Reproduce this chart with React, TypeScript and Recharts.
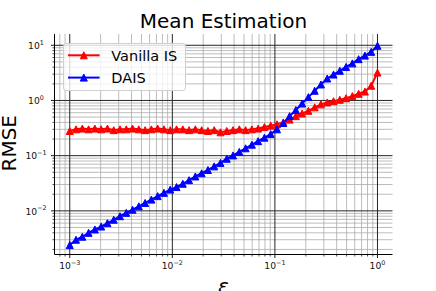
import { CartesianGrid, Legend, Line, LineChart, XAxis, YAxis } from "recharts";

const eps = [
  0.001, 0.001151, 0.001326, 0.001526, 0.001758, 0.002024, 0.00233, 0.002683, 0.003089, 0.003556,
  0.004095, 0.004715, 0.005429, 0.006251, 0.007197, 0.008286, 0.009541, 0.01099, 0.01265, 0.01456,
  0.01677, 0.01931, 0.02223, 0.0256, 0.02947, 0.03393, 0.03907, 0.04498, 0.0518, 0.05964,
  0.06866, 0.07906, 0.09103, 0.1048, 0.1207, 0.139, 0.16, 0.1842, 0.2121, 0.2442,
  0.2812, 0.3237, 0.3728, 0.4292, 0.4942, 0.569, 0.6551, 0.7543, 0.8685, 1.0,
];

const vanillaIS = [
  0.28, 0.3, 0.31, 0.3, 0.31, 0.3, 0.31, 0.29, 0.3, 0.3,
  0.31, 0.3, 0.29, 0.3, 0.31, 0.3, 0.29, 0.3, 0.3, 0.29,
  0.3, 0.29, 0.28, 0.29, 0.265, 0.28, 0.29, 0.3, 0.29, 0.3,
  0.31, 0.33, 0.35, 0.37, 0.4, 0.45, 0.52, 0.58, 0.65, 0.75,
  0.85, 0.92, 0.97, 1.03, 1.1, 1.2, 1.32, 1.45, 1.85, 3.2,
];

const dais = [
  0.0024, 0.003, 0.0034, 0.004, 0.0046, 0.0052, 0.006, 0.0069, 0.008, 0.0092,
  0.0105, 0.0121, 0.0139, 0.016, 0.0185, 0.0212, 0.0243, 0.027, 0.031, 0.036,
  0.042, 0.048, 0.055, 0.064, 0.074, 0.088, 0.101, 0.117, 0.136, 0.158,
  0.183, 0.212, 0.246, 0.3, 0.39, 0.52, 0.67, 0.88, 1.15, 1.5,
  1.95, 2.5, 2.95, 3.45, 4.05, 4.7, 5.6, 6.5, 7.6, 9.8,
];

const majorX = [0.001, 0.01, 0.1, 1];
const majorY = [0.01, 0.1, 1, 10];
const xDomain = [0.00071, 1.401];
const yDomain = [0.00162, 16.0];

const data = eps.map((e, i) => ({ eps: e, vanilla: vanillaIS[i], dais: dais[i] }));

const FONT = "DejaVu Sans";

function minorTicks(domain: number[]) {
  const out: number[] = [];
  for (let d = -5; d <= 2; d++) {
    for (let m = 2; m <= 9; m++) {
      const v = m * Math.pow(10, d);
      if (v >= domain[0] && v <= domain[1]) out.push(v);
    }
  }
  return out;
}
const minorX = minorTicks(xDomain);
const minorY = minorTicks(yDomain);

function isMajor(v: number) {
  const l = Math.log10(v);
  return Math.abs(l - Math.round(l)) < 1e-6;
}
function supText(v: number) {
  return String(Math.round(Math.log10(v))).replace("-", "\u2212");
}

function XTick(props: any) {
  const { x, y, payload } = props;
  const major = isMajor(payload.value);
  return (
    <g>
      <line x1={x} x2={x} y1={y} y2={y + (major ? 3.5 : 2)} stroke="#000" strokeWidth={major ? 0.9 : 0.7} />
      {major && (
        <text x={x} y={y + 14.8} textAnchor="middle" fontFamily={FONT} fontSize={9.2} fill="#111">
          10<tspan dy={-4.2} fontSize={6.4}>{supText(payload.value)}</tspan>
        </text>
      )}
    </g>
  );
}

function YTick(props: any) {
  const { x, y, payload } = props;
  const major = isMajor(payload.value);
  return (
    <g>
      <line x1={x - (major ? 3.5 : 2)} x2={x} y1={y} y2={y} stroke="#000" strokeWidth={major ? 0.9 : 0.7} />
      {major && (
        <text x={x - 18.5} y={y + 3.8} textAnchor="middle" fontFamily={FONT} fontSize={9.2} fill="#111">
          10<tspan dy={-4.2} fontSize={6.4}>{supText(payload.value)}</tspan>
        </text>
      )}
    </g>
  );
}

function triangle(color: string) {
  return (props: any) => {
    const { cx, cy, index } = props;
    if (cx == null || cy == null) return <g key={index} />;
    const r = 3.5;
    return (
      <path
        key={index}
        d={`M${cx},${cy - r}L${cx + r},${cy + r}L${cx - r},${cy + r}Z`}
        fill={color}
        stroke={color}
        strokeWidth={1}
      />
    );
  };
}

// x label plus the title, both centred on the plot area
const renderXLabel = (props: any) => {
  const vb = props.viewBox;
  const cx = vb.x + vb.width / 2;
  return (
    <g>
      <text x={cx} y={28.3} textAnchor="middle" fontFamily={FONT} fontSize={20} fill="#000">
        Mean Estimation
      </text>
      <text x={cx} y={292.5} textAnchor="middle" fontFamily={FONT} fontStyle="italic" fontSize={20} fill="#000">
        ε
      </text>
    </g>
  );
};

const renderYLabel = (props: any) => {
  const vb = props.viewBox;
  return (
    <text
      transform={`translate(15.8, ${vb.y + vb.height / 2 - 1}) rotate(-90)`}
      textAnchor="middle"
      fontFamily={FONT}
      fontSize={20}
      fill="#000"
    >
      RMSE
    </text>
  );
};

const legendItems = [
  { label: "Vanilla IS", color: "#ff0000" },
  { label: "DAIS", color: "#0000ff" },
];

function LegendBox() {
  return (
    <div
      style={{
        width: 123,
        height: 48.5,
        boxSizing: "border-box",
        border: "1px solid #cfcfcf",
        borderRadius: 3,
        background: "rgba(255,255,255,0.8)",
      }}
    >
      <svg width={121} height={46.5} style={{ display: "block" }}>
        {legendItems.map((item, i) => {
          const cy = 11.3 + i * 22.3;
          const r = 3.5;
          return (
            <g key={item.label}>
              <line x1={4} x2={35.6} y1={cy} y2={cy} stroke={item.color} strokeWidth={2} />
              <path d={`M19.8,${cy - r}L${19.8 + r},${cy + r}L${19.8 - r},${cy + r}Z`} fill={item.color} stroke={item.color} />
              <text x={47.3} y={cy + 5.2} fontFamily={FONT} fontSize={14.5} fill="#000">
                {item.label}
              </text>
            </g>
          );
        })}
      </svg>
    </div>
  );
}

export default function App() {
  return (
    <div style={{ position: "absolute", left: 0, top: 0, width: 436, height: 291, background: "#fff" }}>
      <LineChart width={436} height={291} data={data} margin={{ top: 34, right: 43.5, bottom: 0, left: 0 }}>
        <CartesianGrid stroke="#ababab" strokeWidth={0.8} verticalValues={minorX} horizontalValues={minorY} />
        <CartesianGrid stroke="#262626" strokeWidth={1} verticalValues={majorX} horizontalValues={majorY} />
        <XAxis
          dataKey="eps"
          type="number"
          scale="log"
          domain={xDomain}
          allowDataOverflow
          ticks={[...minorX, ...majorX].sort((a, b) => a - b)}
          interval={0}
          tick={<XTick />}
          tickLine={false}
          tickSize={0}
          tickMargin={0}
          height={36.5}
          axisLine={{ stroke: "#000", strokeWidth: 1 }}
          label={renderXLabel}
        />
        <XAxis
          xAxisId="top"
          orientation="top"
          type="number"
          scale="log"
          domain={xDomain}
          allowDataOverflow
          height={0}
          tick={false}
          tickLine={false}
          axisLine={{ stroke: "#000", strokeWidth: 1 }}
        />
        <YAxis
          type="number"
          scale="log"
          domain={yDomain}
          allowDataOverflow
          ticks={[...minorY, ...majorY].sort((a, b) => a - b)}
          interval={0}
          tick={<YTick />}
          tickLine={false}
          tickSize={0}
          tickMargin={0}
          width={54.5}
          axisLine={{ stroke: "#000", strokeWidth: 1 }}
          label={renderYLabel}
        />
        <YAxis
          yAxisId="right"
          orientation="right"
          type="number"
          scale="log"
          domain={yDomain}
          allowDataOverflow
          width={0}
          tick={false}
          tickLine={false}
          axisLine={{ stroke: "#000", strokeWidth: 1 }}
        />
        <Line
          dataKey="vanilla"
          type="linear"
          stroke="#ff0000"
          strokeWidth={2}
          dot={triangle("#ff0000")}
          activeDot={false}
          isAnimationActive={false}
        />
        <Line
          dataKey="dais"
          type="linear"
          stroke="#0000ff"
          strokeWidth={2}
          dot={triangle("#0000ff")}
          activeDot={false}
          isAnimationActive={false}
        />
        <Legend
          layout="horizontal"
          verticalAlign="middle"
          align="center"
          wrapperStyle={{ left: 62.7, top: 42.7, width: 123, height: 48.5 }}
          content={() => <LegendBox />}
        />
      </LineChart>
    </div>
  );
}
